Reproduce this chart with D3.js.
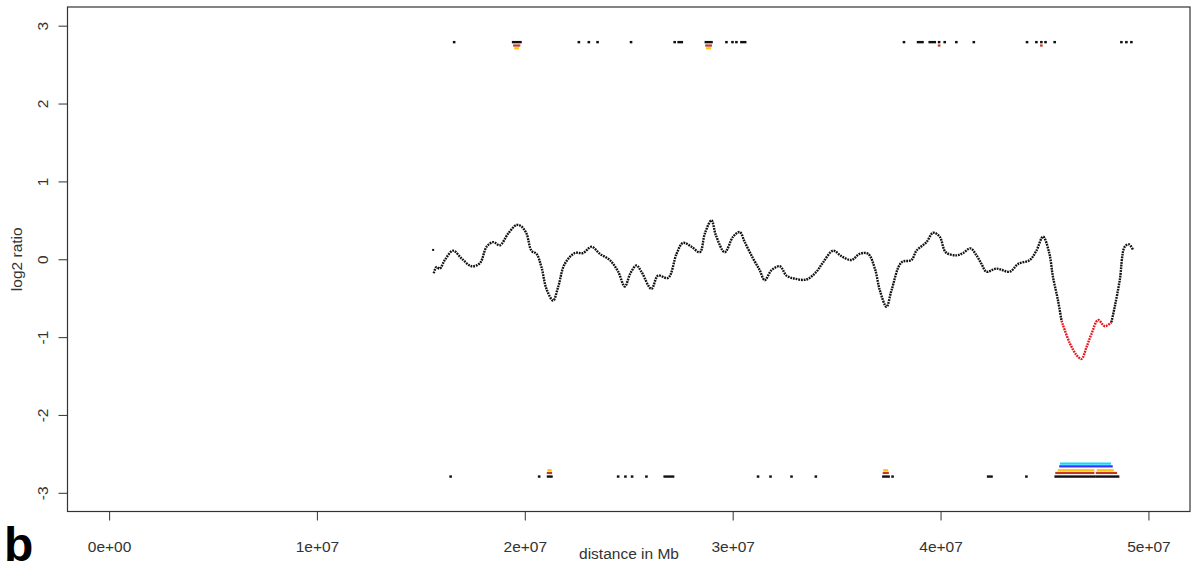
<!DOCTYPE html>
<html>
<head>
<meta charset="utf-8">
<script src="https://cdn.jsdelivr.net/npm/d3@7"></script>
<style>
  body { margin: 0; background: #fff; }
  svg { display: block; }
  text { font-family: "Liberation Sans", Arial, sans-serif; }
</style>
</head>
<body>
<svg id="chart" width="1192" height="570"></svg>
<script>
// Smoothed log2 ratio profile: position (Mb) and value
const profilePos = [15.62,15.75,15.91,16.15,16.55,16.96,17.44,17.84,18.16,18.48,
  18.80,19.20,19.60,19.84,20.08,20.32,20.56,20.80,21.04,21.36,
  21.60,21.92,22.41,22.80,23.21,23.61,24.09,24.49,24.81,25.08,
  25.37,25.61,26.09,26.41,26.89,27.30,27.61,28.02,28.42,28.66,
  28.98,29.19,29.62,30.02,30.34,30.58,30.98,31.30,31.54,31.87,
  32.27,32.59,33.00,33.55,34.03,34.35,34.83,35.23,35.71,36.11,
  36.51,36.84,37.08,37.40,37.64,38.12,38.60,38.84,39.32,39.64,
  39.96,40.25,40.77,41.08,41.44,41.73,41.97,42.21,42.69,43.33,
  43.73,44.29,44.61,44.93,45.22,45.41,45.65,45.82,46.22,46.54,
  46.78,47.02,47.26,47.58,47.90,48.22,48.38,48.62,48.86,49.07,
  49.26];
const profileVal = [-0.18,-0.10,-0.12,-0.01,0.11,0.01,-0.09,-0.05,0.16,0.22,
  0.18,0.33,0.44,0.42,0.33,0.11,0.07,-0.10,-0.38,-0.53,
  -0.36,-0.06,0.08,0.08,0.16,0.07,-0.01,-0.16,-0.35,-0.18,
  -0.08,-0.16,-0.38,-0.21,-0.24,0.07,0.21,0.16,0.09,0.33,
  0.50,0.31,0.09,0.29,0.35,0.22,0.01,-0.14,-0.27,-0.14,
  -0.09,-0.21,-0.25,-0.26,-0.16,-0.04,0.11,0.04,-0.01,0.07,
  0.07,-0.12,-0.40,-0.61,-0.40,-0.04,-0.01,0.11,0.22,0.34,
  0.29,0.09,0.05,0.08,0.14,0.05,-0.06,-0.16,-0.12,-0.16,
  -0.06,-0.01,0.11,0.29,0.09,-0.23,-0.53,-0.79,-1.08,-1.23,
  -1.28,-1.13,-0.96,-0.78,-0.86,-0.81,-0.61,-0.27,0.16,0.19,
  0.12];
// A lone probe just before the profile starts
const lonePos = [15.59];
const loneVal = [0.12];
// Interval called as a loss (drawn in red)
const lossRange = [45.8, 48.25];

// Marker tracks: [start, end] in Mb, drawn near the top (+) and bottom (-) edges
const trackNames  = ["black", "red", "yellow", "blue", "cyan"];
const trackColors = ["#111111", "#c23a22", "#ffc20e", "#3d2bff", "#10d8ff"];
const trackLevels = [2.79, 2.745, 2.71, 2.66, 2.625];
const topTracks = [
  [[16.60,16.60],[19.44,19.79],[22.60,22.60],[23.08,23.08],[23.50,23.50],[25.11,25.11],
   [27.21,27.21],[27.40,27.55],[28.71,28.98],[29.70,29.70],[29.99,29.99],[30.18,30.18],
   [30.42,30.60],[38.24,38.24],[38.92,39.13],[39.48,39.72],[39.93,39.93],[40.20,40.20],
   [40.76,40.76],[41.60,41.60],[44.16,44.16],[44.61,44.61],[44.85,44.85],[45.05,45.05],
   [45.49,45.49],[48.70,48.70],[48.94,48.94],[49.18,49.18]],
  [[19.50,19.72],[28.74,28.94],[39.93,39.93],[44.85,44.85]],
  [[19.55,19.66],[28.78,28.90]],
  [],
  []
];
const bottomTracks = [
  [[16.43,16.43],[20.69,20.69],[21.12,21.28],[24.49,24.49],[24.84,24.84],[25.16,25.16],
   [25.85,25.85],[26.73,27.13],[31.22,31.22],[31.82,31.82],[32.83,32.83],[34.00,34.00],
   [37.25,37.50],[37.69,37.69],[42.29,42.45],[44.13,44.13],[45.54,47.38],[47.50,48.54]],
  [[21.12,21.25],[37.28,37.45],[45.58,47.34],[47.53,48.43]],
  [[21.15,21.23],[37.30,37.42],[45.70,47.34],[47.58,48.27]],
  [[45.77,48.22]],
  [[45.81,48.14]]
];

// Axis ticks
const xTickVals = [0, 10, 20, 30, 40, 50];
const xTickLabels = ["0e+00", "1e+07", "2e+07", "3e+07", "4e+07", "5e+07"];
const yTickVals = [-3, -2, -1, 0, 1, 2, 3];
const yTickLabels = ["-3", "-2", "-1", "0", "1", "2", "3"];

const svg = d3.select("#chart");
const box = { left: 67.5, right: 1190, top: 7, bottom: 511.5 };

const x = d3.scaleLinear().domain([-2, 52]).range([box.left, box.right]);
const y = d3.scaleLinear().domain([-3.24, 3.24]).range([box.bottom, box.top]);

// Axes
const xAxis = d3.axisBottom(x).tickValues(xTickVals)
  .tickFormat((d, i) => xTickLabels[i]).tickSize(9).tickPadding(20).tickSizeOuter(0);
const gx = svg.append("g").attr("transform", `translate(0,${box.bottom})`).call(xAxis);
gx.select(".domain").remove();
gx.selectAll(".tick line").attr("stroke", "#444").attr("stroke-width", 1.1);
gx.selectAll(".tick text").attr("font-size", 15.5).attr("fill", "#333")
  .attr("font-family", "'Liberation Sans', Arial, sans-serif");

const yAxis = d3.axisLeft(y).tickValues(yTickVals)
  .tickFormat(d => yTickLabels[yTickVals.indexOf(d)]).tickSize(9).tickSizeOuter(0);
const gy = svg.append("g").attr("transform", `translate(${box.left},0)`).call(yAxis);
gy.select(".domain").remove();
gy.selectAll(".tick line").attr("stroke", "#444").attr("stroke-width", 1.1);
gy.selectAll(".tick text")
  .attr("font-size", 15.5).attr("fill", "#333")
  .attr("font-family", "'Liberation Sans', Arial, sans-serif")
  .attr("x", null).attr("dy", null)
  .attr("text-anchor", "middle")
  .attr("transform", "translate(-20,0) rotate(-90)");

// Plot frame
svg.append("rect")
  .attr("x", box.left).attr("y", box.top)
  .attr("width", box.right - box.left).attr("height", box.bottom - box.top)
  .attr("fill", "none").attr("stroke", "#333").attr("stroke-width", 1.2);

// Axis titles
svg.append("text").attr("x", 629).attr("y", 559).attr("text-anchor", "middle")
  .attr("font-size", 15.5).attr("fill", "#333").text("distance in Mb");
svg.append("text").attr("transform", `translate(22,${y(0)}) rotate(-90)`)
  .attr("text-anchor", "middle").attr("font-size", 15.5).attr("fill", "#333").text("log2 ratio");

// Panel letter
svg.append("text").attr("x", 4).attr("y", 561)
  .attr("font-size", 48).attr("font-weight", "bold").attr("fill", "#000").text("b");

// Marker tracks
function drawTracks(tracks, sign) {
  tracks.forEach((ranges, t) => {
    svg.append("g").selectAll("rect").data(ranges).join("rect")
      .attr("x", d => x(d[0]) - 1.3)
      .attr("width", d => x(d[1]) - x(d[0]) + 2.6)
      .attr("y", d => y(sign * trackLevels[t]) - 1.1)
      .attr("height", t === 0 ? 2.4 : 2.2)
      .attr("fill", trackColors[t]);
  });
}
drawTracks(topTracks, 1);
drawTracks(bottomTracks, -1);

// Profile, split into normal and loss stretches
const pts = profilePos.map((p, i) => [p, profileVal[i]]);
const before = pts.filter(d => d[0] <= lossRange[0] + 0.05);
const loss = pts.filter(d => d[0] >= lossRange[0] && d[0] <= lossRange[1]);
const after = pts.filter(d => d[0] >= lossRange[1] - 0.05);

const line = d3.line().x(d => x(d[0])).y(d => y(d[1])).curve(d3.curveCatmullRom.alpha(0.5));

[[before, "#111"], [loss, "#e8141a"], [after, "#111"]].forEach(([seg, col]) => {
  svg.append("path").datum(seg).attr("d", line)
    .attr("fill", "none").attr("stroke", col)
    .attr("stroke-width", 2.4).attr("stroke-dasharray", "1.8,0.9");
});

// Lone probe
svg.append("g").selectAll("rect").data(lonePos).join("rect")
  .attr("x", d => x(d) - 1).attr("y", (d, i) => y(loneVal[i]) - 1)
  .attr("width", 2).attr("height", 2).attr("fill", "#111");
</script>
</body>
</html>
